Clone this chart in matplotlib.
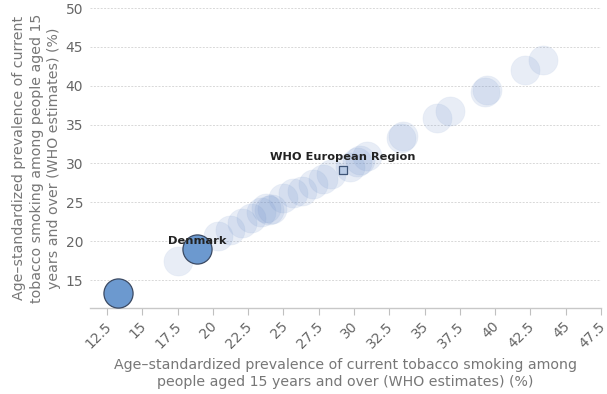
# plot.py
# Bubble chart: tobacco smoking prevalence, WHO European Region countries.

import matplotlib
matplotlib.use("Agg")
import matplotlib.pyplot as plt
import matplotlib.transforms as mtransforms

# ---------------------------------------------------------------------------
# Data
# ---------------------------------------------------------------------------

# Other countries (light bubbles)
other_x = [17.5, 20.4, 21.2, 22.1, 22.7, 23.4, 23.8, 24.2, 24.0,
           25.0, 25.7, 26.3, 27.1, 27.8, 28.4, 29.7, 30.4, 30.9, 30.2,
           33.3, 33.5, 35.9, 36.8, 39.3, 39.4, 42.1, 43.4]
other_y = [17.5, 20.6, 21.5, 22.3, 23.0, 23.8, 24.3, 24.2, 24.0,
           25.6, 26.2, 26.5, 27.4, 28.0, 28.6, 29.6, 30.4, 30.9, 30.2,
           33.3, 33.5, 35.9, 36.8, 39.2, 39.4, 42.0, 43.3]

# Highlighted countries (dark bubbles)
hl_names = ["Denmark", ""]
hl_x = [18.9, 13.3]
hl_y = [19.0, 13.3]

# Regional average (square marker)
region_name = "WHO European Region"
region_x = [29.2]
region_y = [29.1]

x_ticks = [12.5, 15, 17.5, 20, 22.5, 25, 27.5, 30, 32.5, 35, 37.5, 40, 42.5, 45, 47.5]
x_tick_labels = ["12.5", "15", "17.5", "20", "22.5", "25", "27.5", "30",
                 "32.5", "35", "37.5", "40", "42.5", "45", "47.5"]
y_ticks = [15, 20, 25, 30, 35, 40, 45, 50]

x_title = ("Age\u2013standardized prevalence of current tobacco smoking among\n"
           "people aged 15 years and over (WHO estimates) (%)")
y_title = ("Age\u2013standardized prevalence of current\n"
           "tobacco smoking among people aged 15\n"
           "years and over (WHO estimates) (%)")

# ---------------------------------------------------------------------------
# Figure
# ---------------------------------------------------------------------------

fig = plt.figure(figsize=(6.07, 3.94), dpi=100)
ax = fig.add_axes([90 / 607, 1 - 308 / 394, 511 / 607, 300 / 394])

bubble_s = 440
ax.scatter(other_x, other_y, s=bubble_s, color=(0.45, 0.58, 0.80, 0.16),
           edgecolors=(0.45, 0.58, 0.80, 0.08), linewidths=0.6, zorder=3)
ax.scatter(hl_x, hl_y, s=bubble_s, color="#6c99cf",
           edgecolors="#3b4a63", linewidths=0.9, zorder=4)
ax.scatter(region_x, region_y, s=38, marker="s", color="#b9cbe6",
           edgecolors="#3f5577", linewidths=0.9, zorder=5)

for name, x, y in zip(hl_names, hl_x, hl_y):
    if name:
        ax.annotate(name, (x, y), xytext=(0, 6), textcoords="offset points",
                    ha="center", va="center", fontsize=8.2, fontweight="bold",
                    color="#222222", zorder=6)
ax.annotate(region_name, (region_x[0], region_y[0]), xytext=(0, 10),
            textcoords="offset points", ha="center", va="center",
            fontsize=8.2, fontweight="bold", color="#222222", zorder=6)

# --- Axes styling ---
ax.set_xlim(11.3, 47.5)
ax.set_ylim(11.4, 50)
ax.set_xticks(x_ticks)
ax.set_xticklabels(x_tick_labels, rotation=45, ha="right", va="top",
                   rotation_mode="anchor")
ax.set_yticks(y_ticks)

ax.tick_params(axis="x", length=5, width=0.8, color="#c0c0c0",
               labelsize=10, labelcolor="#666666", pad=3)
ax.tick_params(axis="y", length=0, labelsize=10, labelcolor="#666666", pad=5)

# nudge rotated labels slightly left so the last one stays inside the figure
shift = mtransforms.ScaledTranslation(-3 / 100, 0, fig.dpi_scale_trans)
for lbl in ax.get_xticklabels():
    lbl.set_transform(lbl.get_transform() + shift)

for side in ["top", "right", "left"]:
    ax.spines[side].set_visible(False)
ax.spines["bottom"].set_color("#c8c8c8")
ax.spines["bottom"].set_linewidth(1.0)

ax.yaxis.grid(True, linestyle=(0, (2, 1.5)), color="#d8d8d8", linewidth=0.7)
ax.set_axisbelow(True)

ax.set_xlabel(x_title, fontsize=10.2, color="#777777", labelpad=5,
              linespacing=1.32)
ax.set_ylabel(y_title, fontsize=10.2, color="#777777", labelpad=3,
              linespacing=1.32)

plt.savefig("out.png", dpi=100)
plt.close()
